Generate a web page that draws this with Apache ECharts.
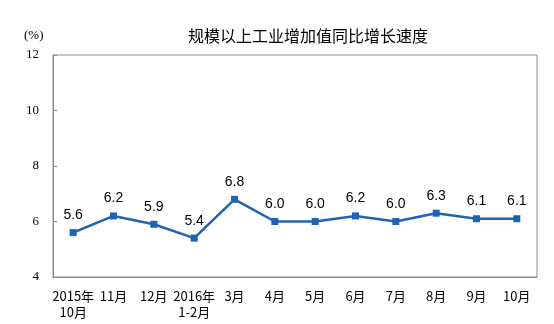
<!DOCTYPE html>
<html><head><meta charset="utf-8">
<script src="https://cdn.jsdelivr.net/npm/echarts@6/dist/echarts.min.js"></script>
<style>html,body{margin:0;padding:0;background:#fff}#c{width:554px;height:324px}</style>
</head><body><div id="c"></div>
<script>
var categories = ['2015年\n10月','11月','12月','2016年\n1-2月','3月','4月','5月','6月','7月','8月','9月','10月'];
var values = [5.6, 6.2, 5.9, 5.4, 6.8, 6.0, 6.0, 6.2, 6.0, 6.3, 6.1, 6.1];
var yTicks = [4, 6, 8, 10, 12];
var title = '规模以上工业增加值同比增长速度';
var unit = '(%)';

var chart = echarts.init(document.getElementById('c'), null, {renderer:'canvas'});
chart.setOption({
  animation:false,
  backgroundColor:'#fff',
  title:{text:title, left:303, top:23, textAlign:'center',
    textStyle:{fontSize:16, fontWeight:'normal', color:'#000', fontFamily:'Noto Sans CJK SC'}},
  graphic:[{type:'text', left:24, top:29, style:{text:unit, fontSize:13, fill:'#000', fontFamily:'Liberation Serif'}}],
  grid:{left:53, top:55, right:17, bottom:47, show:true, borderColor:'#8c8c8c', borderWidth:1},
  xAxis:{type:'category', data:categories, boundaryGap:true,
    axisLine:{lineStyle:{color:'#8c8c8c'}},
    axisTick:{inside:true, length:5, lineStyle:{color:'#8c8c8c'}, alignWithLabel:false},
    axisLabel:{color:'#000', fontSize:13, margin:11, lineHeight:16, interval:0, fontFamily:'Noto Sans CJK SC'}},
  yAxis:{type:'value', min:4, max:12, interval:2,
    axisLine:{show:true, lineStyle:{color:'#8c8c8c'}},
    axisTick:{show:true, inside:true, length:4, lineStyle:{color:'#8c8c8c'}},
    splitLine:{show:false},
    axisLabel:{color:'#000', fontSize:13, margin:14, fontFamily:'Liberation Serif',
      formatter:function(v){return yTicks.indexOf(v)>=0?String(v):'';}}},
  series:[{type:'line', data:values, symbol:'rect', symbolSize:7,
    lineStyle:{color:'#1f63b5', width:2.5}, itemStyle:{color:'#1f63b5'},
    label:{show:true, position:'top', distance:7, color:'#000', fontSize:14,
      fontFamily:'Liberation Sans', formatter:function(p){return p.value.toFixed(1);}}}]
});
</script></body></html>
